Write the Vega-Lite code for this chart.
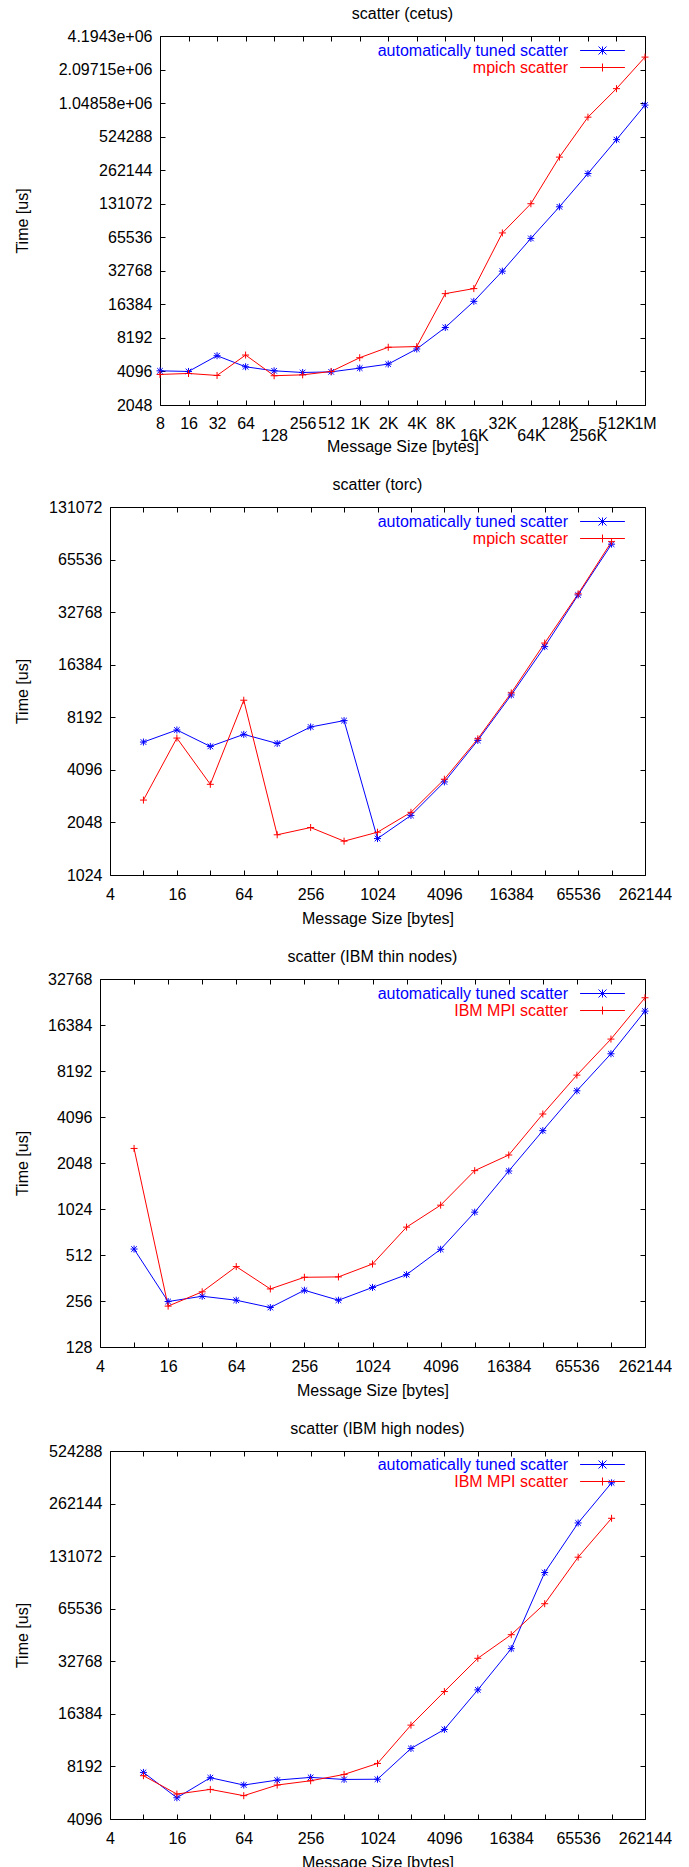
{
  "$schema": "https://vega.github.io/schema/vega-lite/v6.json",
  "background": "white",
  "padding": {"left": 14, "top": 6, "right": 0, "bottom": 0},
  "columns": 1,
  "spacing": 23,
  "resolve": {
    "scale": {"x": "independent", "y": "independent", "color": "independent"},
    "axis": {"x": "independent", "y": "independent"},
    "legend": {"color": "independent"}
  },
  "config": {
    "font": "Liberation Sans",
    "view": {"stroke": null},
    "axis": {"labelFontSize": 16, "titleFontSize": 16, "titleFontWeight": "normal", "labelColor": "#000000", "titleColor": "#000000", "domainColor": "#000000", "tickColor": "#000000", "grid": false, "labelFont": "Liberation Sans", "titleFont": "Liberation Sans", "labelFlush": false, "labelOverlap": false},
    "title": {"fontSize": 16, "fontWeight": "normal", "font": "Liberation Sans", "offset": 6, "frame": "group", "anchor": "middle", "color": "#000000"},
    "legend": {"labelFontSize": 16, "labelFont": "Liberation Sans"}
  },
  "concat": [
    {
      "title": {"text": "scatter (cetus)", "dx": 30},
      "width": 545, "height": 369,
      "data": {"name": "cetus"},
      "resolve": {"axis": {"x": "independent", "y": "independent"}},
      "layer": [
        {"mark": {"type": "line", "strokeWidth": 1},
         "encoding": {
           "x": {"field": "size", "type": "quantitative", "scale": {"type": "log", "base": 2, "domain": [8, 1048576], "nice": false, "range": [60, 545]},
                 "axis": {"orient": "bottom", "values": [8,16,32,64,128,256,512,1024,2048,4096,8192,16384,32768,65536,131072,262144,524288,1048576], "labelExpr": "indexof([128,16384,65536,262144], datum.value) >= 0 ? ['', (datum.value >= 1024 ? format(datum.value/1024,'d') + 'K' : format(datum.value,'d'))] : (datum.value >= 1048576 ? format(datum.value/1048576,'d') + 'M' : datum.value >= 1024 ? format(datum.value/1024,'d') + 'K' : format(datum.value,'d'))", "labelLineHeight": 12, "tickSize": -5, "labelPadding": 15, "title": "Message Size [bytes]", "titlePadding": -5}},
           "y": {"field": "time", "type": "quantitative", "scale": {"type": "log", "base": 2, "domain": [2048, 4194304], "nice": false},
                 "axis": {"orient": "left", "offset": -60, "values": [2048,4096,8192,16384,32768,65536,131072,262144,524288,1048576,2097152,4194304], "labelExpr": "datum.value == 4194304 ? '4.1943e+06' : datum.value == 2097152 ? '2.09715e+06' : datum.value == 1048576 ? '1.04858e+06' : format(datum.value,'d')", "tickSize": -5, "labelPadding": 13, "title": "Time [us]", "titlePadding": 28}},
           "color": {"field": "series", "type": "nominal", "scale": {"domain": ["automatically tuned scatter", "mpich scatter"], "range": ["#0000ff", "#ff0000"]},
                     "legend": {"orient": "none", "legendX": 494, "legendY": 6, "title": null, "padding": 0, "rowPadding": 0, "symbolType": "stroke", "symbolSize": 256, "symbolStrokeWidth": 1, "labelAlign": "right", "labelOffset": -43, "labelLimit": 0,
                       "encode": {"symbols": {"update": {"shape": {"signal": "datum.value === 'automatically tuned scatter' ? 'M-2.8,0H2.8M0,-0.5V0.5M-0.5,-0.5L0.5,0.5M-0.5,0.5L0.5,-0.5' : 'M-2.8,0H2.8M0,-0.5V0.5'"}, "stroke": {"signal": "datum.value === 'automatically tuned scatter' ? '#0000ff' : '#ff0000'"}, "fill": {"value": "transparent"}, "strokeWidth": {"value": 1}, "opacity": {"value": 1}}},
                                  "labels": {"update": {"fill": {"signal": "datum.value === 'automatically tuned scatter' ? '#0000ff' : '#ff0000'"}}}}}}
         }},
        {"transform": [{"filter": "datum.series === 'automatically tuned scatter'"}],
         "mark": {"type": "point", "filled": false, "strokeWidth": 1, "size": 49, "opacity": 1, "color": "#0000ff", "shape": "M-1,0H1M0,-1V1M-0.8,-0.8L0.8,0.8M-0.8,0.8L0.8,-0.8"},
         "encoding": {
           "x": {"field": "size", "type": "quantitative", "axis": {"orient": "top", "values": [8,16,32,64,128,256,512,1024,2048,4096,8192,16384,32768,65536,131072,262144,524288,1048576], "labels": false, "tickSize": -5, "title": null}},
           "y": {"field": "time", "type": "quantitative", "axis": {"orient": "right", "values": [2048,4096,8192,16384,32768,65536,131072,262144,524288,1048576,2097152,4194304], "labels": false, "tickSize": -5, "title": null}}
         }},
        {"transform": [{"filter": "datum.series !== 'automatically tuned scatter'"}],
         "mark": {"type": "point", "filled": false, "strokeWidth": 1, "size": 49, "opacity": 1, "color": "#ff0000", "shape": "M-1,0H1M0,-1V1"},
         "encoding": {
           "x": {"field": "size", "type": "quantitative", "axis": null},
           "y": {"field": "time", "type": "quantitative", "axis": null}
         }}
      ]
    },
    {
      "title": {"text": "scatter (torc)", "dx": 5},
      "width": 545, "height": 368,
      "data": {"name": "torc"},
      "resolve": {"axis": {"x": "independent", "y": "independent"}},
      "layer": [
        {"mark": {"type": "line", "strokeWidth": 1},
         "encoding": {
           "x": {"field": "size", "type": "quantitative", "scale": {"type": "log", "base": 2, "domain": [4, 262144], "nice": false, "range": [10, 545]},
                 "axis": {"orient": "bottom", "values": [4,8,16,32,64,128,256,512,1024,2048,4096,8192,16384,32768,65536,131072,262144], "format": "d", "labelExpr": "round(log(datum.value)/LN2) % 2 == 0 ? datum.label : ''", "tickSize": -5, "labelPadding": 16, "title": "Message Size [bytes]", "titlePadding": 8,
                   "encode": {"ticks": {"update": {"y2": {"signal": "round(log(datum.value)/LN2) % 2 == 0 ? -5 : -3"}}}}}},
           "y": {"field": "time", "type": "quantitative", "scale": {"type": "log", "base": 2, "domain": [1024, 131072], "nice": false},
                 "axis": {"orient": "left", "offset": -10, "values": [1024,2048,4096,8192,16384,32768,65536,131072], "format": "d", "tickSize": -5, "labelPadding": 13, "title": "Time [us]", "titlePadding": 18.6}},
           "color": {"field": "series", "type": "nominal", "scale": {"domain": ["automatically tuned scatter", "mpich scatter"], "range": ["#0000ff", "#ff0000"]},
                     "legend": {"orient": "none", "legendX": 494, "legendY": 6, "title": null, "padding": 0, "rowPadding": 0, "symbolType": "stroke", "symbolSize": 256, "symbolStrokeWidth": 1, "labelAlign": "right", "labelOffset": -43, "labelLimit": 0,
                       "encode": {"symbols": {"update": {"shape": {"signal": "datum.value === 'automatically tuned scatter' ? 'M-2.8,0H2.8M0,-0.5V0.5M-0.5,-0.5L0.5,0.5M-0.5,0.5L0.5,-0.5' : 'M-2.8,0H2.8M0,-0.5V0.5'"}, "stroke": {"signal": "datum.value === 'automatically tuned scatter' ? '#0000ff' : '#ff0000'"}, "fill": {"value": "transparent"}, "strokeWidth": {"value": 1}, "opacity": {"value": 1}}},
                                  "labels": {"update": {"fill": {"signal": "datum.value === 'automatically tuned scatter' ? '#0000ff' : '#ff0000'"}}}}}}
         }},
        {"transform": [{"filter": "datum.series === 'automatically tuned scatter'"}],
         "mark": {"type": "point", "filled": false, "strokeWidth": 1, "size": 49, "opacity": 1, "color": "#0000ff", "shape": "M-1,0H1M0,-1V1M-0.8,-0.8L0.8,0.8M-0.8,0.8L0.8,-0.8"},
         "encoding": {
           "x": {"field": "size", "type": "quantitative", "axis": {"orient": "top", "values": [4,8,16,32,64,128,256,512,1024,2048,4096,8192,16384,32768,65536,131072,262144], "labels": false, "tickSize": -5, "title": null,
                   "encode": {"ticks": {"update": {"y2": {"signal": "round(log(datum.value)/LN2) % 2 == 0 ? 5 : 3"}}}}}},
           "y": {"field": "time", "type": "quantitative", "axis": {"orient": "right", "values": [1024,2048,4096,8192,16384,32768,65536,131072], "labels": false, "tickSize": -5, "title": null}}
         }},
        {"transform": [{"filter": "datum.series !== 'automatically tuned scatter'"}],
         "mark": {"type": "point", "filled": false, "strokeWidth": 1, "size": 49, "opacity": 1, "color": "#ff0000", "shape": "M-1,0H1M0,-1V1"},
         "encoding": {
           "x": {"field": "size", "type": "quantitative", "axis": null},
           "y": {"field": "time", "type": "quantitative", "axis": null}
         }}
      ]
    },
    {
      "title": {"text": "scatter (IBM thin nodes)", "dx": 0},
      "width": 545, "height": 368,
      "data": {"name": "thin"},
      "resolve": {"axis": {"x": "independent", "y": "independent"}},
      "layer": [
        {"mark": {"type": "line", "strokeWidth": 1},
         "encoding": {
           "x": {"field": "size", "type": "quantitative", "scale": {"type": "log", "base": 2, "domain": [4, 262144], "nice": false, "range": [0, 545]},
                 "axis": {"orient": "bottom", "values": [4,8,16,32,64,128,256,512,1024,2048,4096,8192,16384,32768,65536,131072,262144], "format": "d", "labelExpr": "round(log(datum.value)/LN2) % 2 == 0 ? datum.label : ''", "tickSize": -5, "labelPadding": 16, "title": "Message Size [bytes]", "titlePadding": 8,
                   "encode": {"ticks": {"update": {"y2": {"signal": "round(log(datum.value)/LN2) % 2 == 0 ? -5 : -3"}}}}}},
           "y": {"field": "time", "type": "quantitative", "scale": {"type": "log", "base": 2, "domain": [128, 32768], "nice": false},
                 "axis": {"orient": "left", "values": [128,256,512,1024,2048,4096,8192,16384,32768], "format": "d", "tickSize": -5, "labelPadding": 13, "title": "Time [us]", "titlePadding": 17.5}},
           "color": {"field": "series", "type": "nominal", "scale": {"domain": ["automatically tuned scatter", "IBM MPI scatter"], "range": ["#0000ff", "#ff0000"]},
                     "legend": {"orient": "none", "legendX": 494, "legendY": 6, "title": null, "padding": 0, "rowPadding": 0, "symbolType": "stroke", "symbolSize": 256, "symbolStrokeWidth": 1, "labelAlign": "right", "labelOffset": -43, "labelLimit": 0,
                       "encode": {"symbols": {"update": {"shape": {"signal": "datum.value === 'automatically tuned scatter' ? 'M-2.8,0H2.8M0,-0.5V0.5M-0.5,-0.5L0.5,0.5M-0.5,0.5L0.5,-0.5' : 'M-2.8,0H2.8M0,-0.5V0.5'"}, "stroke": {"signal": "datum.value === 'automatically tuned scatter' ? '#0000ff' : '#ff0000'"}, "fill": {"value": "transparent"}, "strokeWidth": {"value": 1}, "opacity": {"value": 1}}},
                                  "labels": {"update": {"fill": {"signal": "datum.value === 'automatically tuned scatter' ? '#0000ff' : '#ff0000'"}}}}}}
         }},
        {"transform": [{"filter": "datum.series === 'automatically tuned scatter'"}],
         "mark": {"type": "point", "filled": false, "strokeWidth": 1, "size": 49, "opacity": 1, "color": "#0000ff", "shape": "M-1,0H1M0,-1V1M-0.8,-0.8L0.8,0.8M-0.8,0.8L0.8,-0.8"},
         "encoding": {
           "x": {"field": "size", "type": "quantitative", "axis": {"orient": "top", "values": [4,8,16,32,64,128,256,512,1024,2048,4096,8192,16384,32768,65536,131072,262144], "labels": false, "tickSize": -5, "title": null,
                   "encode": {"ticks": {"update": {"y2": {"signal": "round(log(datum.value)/LN2) % 2 == 0 ? 5 : 3"}}}}}},
           "y": {"field": "time", "type": "quantitative", "axis": {"orient": "right", "values": [128,256,512,1024,2048,4096,8192,16384,32768], "labels": false, "tickSize": -5, "title": null}}
         }},
        {"transform": [{"filter": "datum.series !== 'automatically tuned scatter'"}],
         "mark": {"type": "point", "filled": false, "strokeWidth": 1, "size": 49, "opacity": 1, "color": "#ff0000", "shape": "M-1,0H1M0,-1V1"},
         "encoding": {
           "x": {"field": "size", "type": "quantitative", "axis": null},
           "y": {"field": "time", "type": "quantitative", "axis": null}
         }}
      ]
    },
    {
      "title": {"text": "scatter (IBM high nodes)", "dx": 5},
      "width": 545, "height": 368,
      "data": {"name": "high"},
      "resolve": {"axis": {"x": "independent", "y": "independent"}},
      "layer": [
        {"mark": {"type": "line", "strokeWidth": 1},
         "encoding": {
           "x": {"field": "size", "type": "quantitative", "scale": {"type": "log", "base": 2, "domain": [4, 262144], "nice": false, "range": [10, 545]},
                 "axis": {"orient": "bottom", "values": [4,8,16,32,64,128,256,512,1024,2048,4096,8192,16384,32768,65536,131072,262144], "format": "d", "labelExpr": "round(log(datum.value)/LN2) % 2 == 0 ? datum.label : ''", "tickSize": -5, "labelPadding": 16, "title": "Message Size [bytes]", "titlePadding": 8,
                   "encode": {"ticks": {"update": {"y2": {"signal": "round(log(datum.value)/LN2) % 2 == 0 ? -5 : -3"}}}}}},
           "y": {"field": "time", "type": "quantitative", "scale": {"type": "log", "base": 2, "domain": [4096, 524288], "nice": false},
                 "axis": {"orient": "left", "offset": -10, "values": [4096,8192,16384,32768,65536,131072,262144,524288], "format": "d", "tickSize": -5, "labelPadding": 13, "title": "Time [us]", "titlePadding": 18.6}},
           "color": {"field": "series", "type": "nominal", "scale": {"domain": ["automatically tuned scatter", "IBM MPI scatter"], "range": ["#0000ff", "#ff0000"]},
                     "legend": {"orient": "none", "legendX": 494, "legendY": 5, "title": null, "padding": 0, "rowPadding": 0, "symbolType": "stroke", "symbolSize": 256, "symbolStrokeWidth": 1, "labelAlign": "right", "labelOffset": -43, "labelLimit": 0,
                       "encode": {"symbols": {"update": {"shape": {"signal": "datum.value === 'automatically tuned scatter' ? 'M-2.8,0H2.8M0,-0.5V0.5M-0.5,-0.5L0.5,0.5M-0.5,0.5L0.5,-0.5' : 'M-2.8,0H2.8M0,-0.5V0.5'"}, "stroke": {"signal": "datum.value === 'automatically tuned scatter' ? '#0000ff' : '#ff0000'"}, "fill": {"value": "transparent"}, "strokeWidth": {"value": 1}, "opacity": {"value": 1}}},
                                  "labels": {"update": {"fill": {"signal": "datum.value === 'automatically tuned scatter' ? '#0000ff' : '#ff0000'"}}}}}}
         }},
        {"transform": [{"filter": "datum.series === 'automatically tuned scatter'"}],
         "mark": {"type": "point", "filled": false, "strokeWidth": 1, "size": 49, "opacity": 1, "color": "#0000ff", "shape": "M-1,0H1M0,-1V1M-0.8,-0.8L0.8,0.8M-0.8,0.8L0.8,-0.8"},
         "encoding": {
           "x": {"field": "size", "type": "quantitative", "axis": {"orient": "top", "values": [4,8,16,32,64,128,256,512,1024,2048,4096,8192,16384,32768,65536,131072,262144], "labels": false, "tickSize": -5, "title": null,
                   "encode": {"ticks": {"update": {"y2": {"signal": "round(log(datum.value)/LN2) % 2 == 0 ? 5 : 3"}}}}}},
           "y": {"field": "time", "type": "quantitative", "axis": {"orient": "right", "values": [4096,8192,16384,32768,65536,131072,262144,524288], "labels": false, "tickSize": -5, "title": null}}
         }},
        {"transform": [{"filter": "datum.series !== 'automatically tuned scatter'"}],
         "mark": {"type": "point", "filled": false, "strokeWidth": 1, "size": 49, "opacity": 1, "color": "#ff0000", "shape": "M-1,0H1M0,-1V1"},
         "encoding": {
           "x": {"field": "size", "type": "quantitative", "axis": null},
           "y": {"field": "time", "type": "quantitative", "axis": null}
         }}
      ]
    }
  ],
  "datasets": {
    "cetus": [
      {"size": 8, "series": "automatically tuned scatter", "time": 4150},
      {"size": 16, "series": "automatically tuned scatter", "time": 4096},
      {"size": 32, "series": "automatically tuned scatter", "time": 5670},
      {"size": 64, "series": "automatically tuned scatter", "time": 4510},
      {"size": 128, "series": "automatically tuned scatter", "time": 4150},
      {"size": 256, "series": "automatically tuned scatter", "time": 4010},
      {"size": 512, "series": "automatically tuned scatter", "time": 4060},
      {"size": 1024, "series": "automatically tuned scatter", "time": 4390},
      {"size": 2048, "series": "automatically tuned scatter", "time": 4770},
      {"size": 4096, "series": "automatically tuned scatter", "time": 6520},
      {"size": 8192, "series": "automatically tuned scatter", "time": 10160},
      {"size": 16384, "series": "automatically tuned scatter", "time": 17430},
      {"size": 32768, "series": "automatically tuned scatter", "time": 32540},
      {"size": 65536, "series": "automatically tuned scatter", "time": 64000},
      {"size": 131072, "series": "automatically tuned scatter", "time": 123000},
      {"size": 262144, "series": "automatically tuned scatter", "time": 244600},
      {"size": 524288, "series": "automatically tuned scatter", "time": 492700},
      {"size": 1048576, "series": "automatically tuned scatter", "time": 1006000},
      {"size": 8, "series": "mpich scatter", "time": 3850},
      {"size": 16, "series": "mpich scatter", "time": 3930},
      {"size": 32, "series": "mpich scatter", "time": 3770},
      {"size": 64, "series": "mpich scatter", "time": 5750},
      {"size": 128, "series": "mpich scatter", "time": 3750},
      {"size": 256, "series": "mpich scatter", "time": 3820},
      {"size": 512, "series": "mpich scatter", "time": 4096},
      {"size": 1024, "series": "mpich scatter", "time": 5440},
      {"size": 2048, "series": "mpich scatter", "time": 6750},
      {"size": 4096, "series": "mpich scatter", "time": 6850},
      {"size": 8192, "series": "mpich scatter", "time": 20450},
      {"size": 16384, "series": "mpich scatter", "time": 22700},
      {"size": 32768, "series": "mpich scatter", "time": 71700},
      {"size": 65536, "series": "mpich scatter", "time": 131072},
      {"size": 131072, "series": "mpich scatter", "time": 343500},
      {"size": 262144, "series": "mpich scatter", "time": 784000},
      {"size": 524288, "series": "mpich scatter", "time": 1413000},
      {"size": 1048576, "series": "mpich scatter", "time": 2712000}
    ],
    "torc": [
      {"size": 8, "series": "automatically tuned scatter", "time": 5910},
      {"size": 16, "series": "automatically tuned scatter", "time": 6930},
      {"size": 32, "series": "automatically tuned scatter", "time": 5580},
      {"size": 64, "series": "automatically tuned scatter", "time": 6540},
      {"size": 128, "series": "automatically tuned scatter", "time": 5800},
      {"size": 256, "series": "automatically tuned scatter", "time": 7210},
      {"size": 512, "series": "automatically tuned scatter", "time": 7840},
      {"size": 1024, "series": "automatically tuned scatter", "time": 1655},
      {"size": 2048, "series": "automatically tuned scatter", "time": 2246},
      {"size": 4096, "series": "automatically tuned scatter", "time": 3495},
      {"size": 8192, "series": "automatically tuned scatter", "time": 6040},
      {"size": 16384, "series": "automatically tuned scatter", "time": 11000},
      {"size": 32768, "series": "automatically tuned scatter", "time": 20800},
      {"size": 65536, "series": "automatically tuned scatter", "time": 41100},
      {"size": 131072, "series": "automatically tuned scatter", "time": 80300},
      {"size": 8, "series": "mpich scatter", "time": 2750},
      {"size": 16, "series": "mpich scatter", "time": 6230},
      {"size": 32, "series": "mpich scatter", "time": 3385},
      {"size": 64, "series": "mpich scatter", "time": 10260},
      {"size": 128, "series": "mpich scatter", "time": 1740},
      {"size": 256, "series": "mpich scatter", "time": 1915},
      {"size": 512, "series": "mpich scatter", "time": 1600},
      {"size": 1024, "series": "mpich scatter", "time": 1800},
      {"size": 2048, "series": "mpich scatter", "time": 2340},
      {"size": 4096, "series": "mpich scatter", "time": 3620},
      {"size": 8192, "series": "mpich scatter", "time": 6170},
      {"size": 16384, "series": "mpich scatter", "time": 11300},
      {"size": 32768, "series": "mpich scatter", "time": 21800},
      {"size": 65536, "series": "mpich scatter", "time": 41700},
      {"size": 131072, "series": "mpich scatter", "time": 83000}
    ],
    "thin": [
      {"size": 8, "series": "automatically tuned scatter", "time": 560},
      {"size": 16, "series": "automatically tuned scatter", "time": 254},
      {"size": 32, "series": "automatically tuned scatter", "time": 275},
      {"size": 64, "series": "automatically tuned scatter", "time": 259},
      {"size": 128, "series": "automatically tuned scatter", "time": 232},
      {"size": 256, "series": "automatically tuned scatter", "time": 301},
      {"size": 512, "series": "automatically tuned scatter", "time": 259},
      {"size": 1024, "series": "automatically tuned scatter", "time": 314},
      {"size": 2048, "series": "automatically tuned scatter", "time": 381},
      {"size": 4096, "series": "automatically tuned scatter", "time": 558},
      {"size": 8192, "series": "automatically tuned scatter", "time": 976},
      {"size": 16384, "series": "automatically tuned scatter", "time": 1815},
      {"size": 32768, "series": "automatically tuned scatter", "time": 3335},
      {"size": 65536, "series": "automatically tuned scatter", "time": 6080},
      {"size": 131072, "series": "automatically tuned scatter", "time": 10620},
      {"size": 262144, "series": "automatically tuned scatter", "time": 20200},
      {"size": 8, "series": "IBM MPI scatter", "time": 2550},
      {"size": 16, "series": "IBM MPI scatter", "time": 237},
      {"size": 32, "series": "IBM MPI scatter", "time": 294},
      {"size": 64, "series": "IBM MPI scatter", "time": 430},
      {"size": 128, "series": "IBM MPI scatter", "time": 307},
      {"size": 256, "series": "IBM MPI scatter", "time": 366},
      {"size": 512, "series": "IBM MPI scatter", "time": 368},
      {"size": 1024, "series": "IBM MPI scatter", "time": 447},
      {"size": 2048, "series": "IBM MPI scatter", "time": 779},
      {"size": 4096, "series": "IBM MPI scatter", "time": 1085},
      {"size": 8192, "series": "IBM MPI scatter", "time": 1825},
      {"size": 16384, "series": "IBM MPI scatter", "time": 2310},
      {"size": 32768, "series": "IBM MPI scatter", "time": 4285},
      {"size": 65536, "series": "IBM MPI scatter", "time": 7700},
      {"size": 131072, "series": "IBM MPI scatter", "time": 13250},
      {"size": 262144, "series": "IBM MPI scatter", "time": 24700}
    ],
    "high": [
      {"size": 8, "series": "automatically tuned scatter", "time": 7570},
      {"size": 16, "series": "automatically tuned scatter", "time": 5420},
      {"size": 32, "series": "automatically tuned scatter", "time": 7060},
      {"size": 64, "series": "automatically tuned scatter", "time": 6410},
      {"size": 128, "series": "automatically tuned scatter", "time": 6840},
      {"size": 256, "series": "automatically tuned scatter", "time": 7090},
      {"size": 512, "series": "automatically tuned scatter", "time": 6900},
      {"size": 1024, "series": "automatically tuned scatter", "time": 6920},
      {"size": 2048, "series": "automatically tuned scatter", "time": 10380},
      {"size": 4096, "series": "automatically tuned scatter", "time": 13340},
      {"size": 8192, "series": "automatically tuned scatter", "time": 22480},
      {"size": 16384, "series": "automatically tuned scatter", "time": 38700},
      {"size": 32768, "series": "automatically tuned scatter", "time": 105600},
      {"size": 65536, "series": "automatically tuned scatter", "time": 203000},
      {"size": 131072, "series": "automatically tuned scatter", "time": 344700},
      {"size": 8, "series": "IBM MPI scatter", "time": 7250},
      {"size": 16, "series": "IBM MPI scatter", "time": 5690},
      {"size": 32, "series": "IBM MPI scatter", "time": 6050},
      {"size": 64, "series": "IBM MPI scatter", "time": 5570},
      {"size": 128, "series": "IBM MPI scatter", "time": 6410},
      {"size": 256, "series": "IBM MPI scatter", "time": 6780},
      {"size": 512, "series": "IBM MPI scatter", "time": 7370},
      {"size": 1024, "series": "IBM MPI scatter", "time": 8520},
      {"size": 2048, "series": "IBM MPI scatter", "time": 14120},
      {"size": 4096, "series": "IBM MPI scatter", "time": 21990},
      {"size": 8192, "series": "IBM MPI scatter", "time": 34090},
      {"size": 16384, "series": "IBM MPI scatter", "time": 46540},
      {"size": 32768, "series": "IBM MPI scatter", "time": 70000},
      {"size": 65536, "series": "IBM MPI scatter", "time": 129300},
      {"size": 131072, "series": "IBM MPI scatter", "time": 215900}
    ]
  }
}
